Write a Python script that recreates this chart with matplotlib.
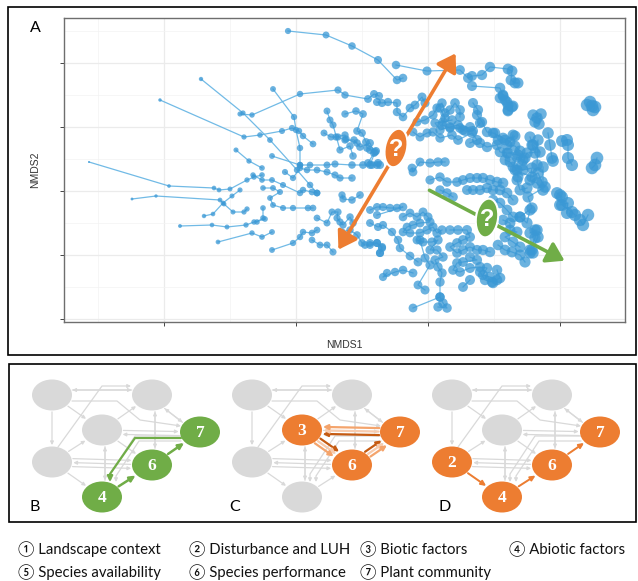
import matplotlib
matplotlib.use("Agg")
import matplotlib.pyplot as plt
import numpy as np
from matplotlib.patches import Ellipse, Rectangle, FancyArrowPatch
from matplotlib.path import Path

# ---------------- data (NMDS scores, in plot units) ----------------
traj_left = [
    [(89,162),(169,186),(214,188),(219,190),(230,189),(247,180),(254,177),(262,175)],
    [(132,199),(156,196),(220,200),(224,204),(233,212),(244,212),(247,209)],
    [(180,226),(212,225),(227,227),(246,225),(254,222),(265,219)],
    [(218,242),(252,233),(262,237),(272,232)],
    [(204,216),(213,214),(223,203),(232,196),(240,190)],
    [(201,79),(243,113),(270,140),(297,170),(310,185),(317,193)],
    [(160,100),(244,137),(260,135),(282,131),(292,128),(299,131),(303,136),(313,144)],
    [(240,114),(252,115),(300,94),(338,90),(345,95),(368,99),(374,94),(379,96)],
    [(288,31),(326,35),(352,46),(378,60),(397,80),(403,78)],
    [(236,150),(249,161),(262,168)],
    [(273,89),(294,117),(296,130),(300,148),(300,165)],
    [(272,250),(293,243),(300,237),(303,232),(312,233),(317,230)],
]
traj_center = [
    [(327,111),(330,120),(333,125),(340,150),(350,146),(353,156)],
    [(345,114),(356,111),(363,114),(357,131),(362,133),(366,142),(367,148),(376,151)],
    [(272,156),(300,165),(310,165),(327,165),(335,164),(352,165),(363,165),(372,165),(380,165)],
    [(324,133),(331,137),(336,137),(345,135),(346,139),(357,143)],
    [(285,172),(293,178),(300,168),(307,170),(317,170),(327,172),(335,175),(340,178),(352,178)],
    [(253,175),(262,180),(272,180),(283,185),(300,193),(303,190),(312,192),(317,193)],
    [(263,188),(273,188),(280,192),(270,198),(273,205),(283,208),(293,208),(308,208),(313,208)],
    [(257,222),(263,218),(263,208)],
    [(317,218),(327,223),(332,212),(338,212),(337,218),(340,222),(343,225),(350,217),(353,223)],
    [(342,232),(350,230),(357,235),(362,243),(365,245),(370,245),(377,243),(382,248),(380,253)],
    [(312,240),(320,245),(327,245),(333,252)],
    [(338,137),(345,140),(354,140),(360,147),(370,143),(374,153),(368,163),(378,163)],
    [(342,195),(343,199),(352,200),(360,195)],
    [(370,150),(375,152),(370,165),(377,165)],
]
traj_upper_band = [
    [(396,65),(427,71),(460,70),(468,78),(472,76),(482,75),(490,67),(508,69),(512,71),(511,80),(515,83),(518,83)],
    [(472,86),(500,88),(503,96),(505,100),(508,105),(513,106),(508,111)],
    [(377,102),(382,103),(388,102),(397,103),(397,112),(403,117),(410,108),(415,105),(422,97),(425,103)],
    [(417,122),(425,120),(433,115),(437,108),(442,103),(445,113),(450,110),(455,103),(460,110),(460,117)],
    [(452,120),(443,122),(435,123),(440,130),(450,127),(458,125),(463,130),(470,127)],
    [(473,103),(478,110),(477,115),(482,122),(487,132),(493,133),(503,138),(510,142),(513,135)],
    [(500,98),(503,95),(507,102),(512,107),(508,110)],
    [(413,132),(420,137),(427,133),(433,132),(440,138),(452,135),(458,140),(472,133),(477,140),(470,143)],
    [(480,143),(487,147),(497,145),(500,152),(507,153),(505,160),(510,162),(517,170),(518,177)],
    [(530,137),(533,145),(540,152),(527,153),(523,160),(517,157),(513,167),(523,170),(532,168),(530,180),(537,183),(543,190),(543,167)],
    [(495,133),(498,140),(505,140),(515,136),(507,145),(515,146),(520,151),(508,153),(518,155),(525,158),(522,165)],
    [(440,108),(445,118),(442,125),(450,128),(460,128),(465,131),(473,131),(480,123)],
    [(532,145),(535,153),(538,140),(537,165)],
]
traj_middle_band = [
    [(412,168),(413,172),(420,162),(430,163),(438,162),(445,162)],
    [(430,180),(440,177),(447,182),(457,182),(463,180),(470,178),(477,178),(483,178),(490,180),(497,182),(503,183)],
    [(440,190),(447,193),(453,197)],
    [(467,190),(473,190),(480,190),(487,188),(493,190),(500,190),(507,193),(513,200)],
    [(517,180),(520,190),(527,188)],
    [(493,200),(500,203),(507,210),(513,217),(520,217),(527,223),(530,210)],
    [(557,193),(562,197),(560,205),(568,203),(567,213)],
    [(515,170),(532,177),(538,173),(542,182),(545,187),(528,197),(532,208),(520,217)],
]
traj_lower_band = [
    [(370,210),(377,207),(383,207),(390,208),(397,208),(403,207),(377,215)],
    [(403,217),(410,213),(417,217),(423,212),(428,217),(430,222),(420,223),(413,225),(407,227),(403,232),(410,233),(420,233),(427,230),(433,227),(437,233),(442,230)],
    [(417,240),(423,242),(432,242),(438,240),(430,250),(437,250),(443,257),(435,260),(438,267),(442,273),(440,282),(440,297)],
    [(370,243),(377,243),(382,247),(380,253)],
    [(370,223),(378,227),(383,225),(392,232),(398,240),(400,248),(410,256),(418,262)],
    [(420,240),(425,258),(430,265),(418,285),(425,290)],
    [(450,230),(458,230),(467,230),(470,237),(463,240),(457,243),(450,247),(457,253),(463,250),(470,247),(477,250),(483,250),(490,252)],
    [(470,257),(477,260),(463,262),(457,263),(453,270),(460,272),(470,268),(480,267),(487,268),(483,275),(490,277),(497,280),(493,283)],
    [(480,272),(485,280),(492,282),(500,278),(497,270)],
    [(503,220),(510,223),(510,230),(517,232),(505,237),(513,242),(520,247)],
    [(498,245),(505,250),(512,252),(520,255),(525,262)],
    [(530,233),(537,230),(535,238),(530,250),(533,253)],
    [(387,273),(383,277),(395,272),(403,270),(413,273)],
    [(413,308),(440,297),(443,303),(447,308),(438,307)],
    [(463,287),(470,280)],
]
traj_far_right = [
    [(533,115),(537,118),(541,114),(539,124),(535,122)],
    [(587,105),(592,106),(590,102),(595,107),(593,110)],
    [(548,133),(550,145),(552,158),(553,161)],
    [(562,141),(567,140),(568,145),(568,158),(572,165)],
    [(597,158),(595,165),(592,168)],
    [(560,195),(562,205),(572,212),(575,215)],
    [(588,215),(583,225),(580,220)],
    [(535,230),(538,237),(532,250),(530,253)],
]

nmds1_ticks = [164, 296, 428, 560]
nmds2_ticks = [63, 127, 191, 255, 319]
nmds1_minor = [98, 230, 362, 494]
nmds2_minor = [31, 95, 159, 223, 287]

factor_names = ['Landscape context', 'Disturbance and LUH', 'Biotic factors',
                'Abiotic factors', 'Species availability', 'Species performance',
                'Plant community']

# ---------------- styling ----------------
W, H = 638, 581
BLUE = '#3A98D5'
BLUE_LINE = '#62B3E3'
ORANGE = '#ED7D31'
GREEN = '#70AD47'
NODE_GRAY = '#D9D9D9'
EDGE_GRAY = '#D9D9D9'

fig = plt.figure(figsize=(W/100, H/100), dpi=100)
fig.patch.set_facecolor('white')

ov = fig.add_axes([0, 0, 1, 1])
ov.set_xlim(0, W); ov.set_ylim(H, 0); ov.axis('off')
ov.set_zorder(0)

# panel frames
ov.add_patch(Rectangle((8, 7), 628, 348, fill=False, ec='black', lw=1.2))
ov.add_patch(Rectangle((9, 364), 627, 158, fill=False, ec='black', lw=1.2))

# ---------------- panel A ----------------
ax = fig.add_axes([64/W, 1-322/H, (625-64)/W, (322-18)/H])
ax.set_zorder(1)
ax.set_xlim(64, 625); ax.set_ylim(322, 18)
ax.set_xticks(nmds1_ticks); ax.set_yticks(nmds2_ticks)
ax.set_xticks(nmds1_minor, minor=True); ax.set_yticks(nmds2_minor, minor=True)
ax.set_xticklabels([]); ax.set_yticklabels([])
ax.grid(True, which='major', color='#EBEBEB', lw=0.9)
ax.grid(True, which='minor', color='#F3F3F3', lw=0.5)
ax.set_axisbelow(True)
ax.tick_params(which='major', length=3, width=0.7, color='#444444')
ax.tick_params(which='minor', length=0)
for s in ax.spines.values():
    s.set_color('#6E6E6E'); s.set_linewidth(1.0)

all_groups = (traj_left + traj_center + traj_upper_band + traj_middle_band
              + traj_lower_band + traj_far_right)
px, py = [], []
for tr in all_groups:
    xs = [p[0] for p in tr]; ys = [p[1] for p in tr]
    ax.plot(xs, ys, color=BLUE_LINE, lw=0.9, zorder=2, alpha=0.9)
    px += xs; py += ys
px = np.array(px, float); py = np.array(py, float)
diam = 2.0 + 0.021*np.clip(px-89, 0, None)
ax.scatter(px, py, s=(diam*0.72)**2, color=BLUE, alpha=0.75, lw=0, zorder=3)

# annotations
ax.add_patch(FancyArrowPatch((337, 252), (457, 51), arrowstyle='<|-|>,head_length=0.7,head_width=0.45',
                             mutation_scale=15, lw=2.6, color=ORANGE, zorder=5))
ax.add_patch(FancyArrowPatch((427, 189), (567, 262), arrowstyle='-|>,head_length=0.7,head_width=0.45',
                             mutation_scale=15, lw=2.6, color=GREEN, zorder=5))
for (cx, cy, col, ang) in [(396, 148, ORANGE, 12), (487, 218, GREEN, 8)]:
    ax.add_patch(Ellipse((cx, cy), 22, 39, angle=ang, fc=col, ec='white', lw=1.5, zorder=6))
    ax.text(cx, cy+1, '?', color='white', fontsize=17, fontweight='bold', ha='center', va='center',
            family='Liberation Sans', zorder=7)

ov.text(35, 28, 'A', fontsize=11.5, ha='center', va='center', family='Lato')
ov.text(344.5, 345, 'NMDS1', fontsize=7.5, ha='center', va='center', color='#333333', family='Liberation Sans')
ov.text(35, 170, 'NMDS2', fontsize=7.5, ha='center', va='center', rotation=90, color='#333333', family='Liberation Sans')

# ---------------- network panels ----------------
NODE_POS = {1: (52, 395), 5: (152, 395), 3: (102, 430), 7: (200, 432),
            2: (52, 462), 6: (152, 465), 4: (102, 497)}
GRAY_EDGES = [(1, 5, -5), (5, 1, 5), (1, 2, 0), (1, 3, 0), (2, 3, 0), (2, 4, 0),
              (2, 6, -4), (6, 2, 0), (2, 6, 4), (3, 5, 0), (3, 4, -3), (4, 3, 3),
              (5, 6, -3), (6, 5, 3), (7, 5, -3), (5, 7, 3), (7, 3, -4), (3, 7, 0),
              (3, 6, 0), (4, 6, 0), (6, 7, 0)]
GRAY_ROUTES = [
    [(181, 436), (135, 436), (110, 474), (110, 482)],
    [(181, 441), (139, 441), (116, 476), (116, 482)],
    [(58, 447), (102, 386), (131, 386)],
    [(72, 401), (117, 401), (140, 420), (181, 426)],
]

def edge_arrow(a, b, dx, off, patches, color, lw, ms):
    x1, y1 = NODE_POS[a]; x2, y2 = NODE_POS[b]
    d = np.array([x2-x1, y2-y1], float); d /= np.hypot(*d)
    n = np.array([-d[1], d[0]])
    p1 = (x1+dx+n[0]*off, y1+n[1]*off); p2 = (x2+dx+n[0]*off, y2+n[1]*off)
    ov.add_patch(FancyArrowPatch(p1, p2, patchA=patches[a], patchB=patches[b],
                                 arrowstyle='-|>', mutation_scale=ms, lw=lw, color=color,
                                 shrinkA=1, shrinkB=1, zorder=2 if color == EDGE_GRAY else 4))

def route_arrow(pts, dx, color, lw, ms, z):
    verts = [(x+dx, y) for x, y in pts]
    ov.add_patch(FancyArrowPatch(path=Path(verts), arrowstyle='-|>', mutation_scale=ms, lw=lw,
                                 color=color, zorder=z))

def draw_network(dx, hi_nodes, hi_color, label, lab_x):
    patches = {}
    for n, (x, y) in NODE_POS.items():
        fc = hi_color if n in hi_nodes else NODE_GRAY
        e = Ellipse((x+dx, y), 40, 31, fc=fc, ec='none', zorder=3)
        ov.add_patch(e); patches[n] = e
        if n in hi_nodes:
            ov.text(x+dx, y+1, str(n), color='white', fontsize=12.5, fontweight='bold',
                    family='Liberation Serif', ha='center', va='center', zorder=6)
    for a, b, off in GRAY_EDGES:
        edge_arrow(a, b, dx, off, patches, EDGE_GRAY, 0.9, 5)
    for r in GRAY_ROUTES:
        route_arrow(r, dx, EDGE_GRAY, 0.9, 5, 2)
    ov.text(lab_x, 507, label, fontsize=11.5, ha='center', va='center', family='Lato')
    return patches

pB = draw_network(0, [4, 6, 7], GREEN, 'B', 35)
for a, b in [(4, 6), (6, 7)]:
    edge_arrow(a, b, 0, 0, pB, GREEN, 1.8, 8)
route_arrow([(181, 438), (135, 438), (110, 474), (110, 482)], 0, GREEN, 1.6, 8, 4)

pC = draw_network(200, [3, 6, 7], ORANGE, 'C', 235)
for a, b in [(7, 3), (3, 6), (6, 7)]:
    for off, col in [(-3.5, '#C55A11'), (0, '#F8CBAD'), (3.5, '#F4A46C')]:
        edge_arrow(a, b, 200, off, pC, col, 1.6, 7)

pD = draw_network(400, [2, 4, 6, 7], ORANGE, 'D', 445)
for a, b in [(2, 4), (4, 6), (6, 7)]:
    edge_arrow(a, b, 400, 0, pD, ORANGE, 1.4, 7)

# ---------------- legend ----------------
col_x = [18, 189, 360, 509]
row_y = [549, 572]
for i, name in enumerate(factor_names):
    r, c = divmod(i, 4)
    ov.text(col_x[c], row_y[r], chr(0x2460+i) + ' ' + name, fontsize=10.7, ha='left', va='center',
            family=['Lato', 'Noto Sans CJK JP', 'DejaVu Sans'], color='#111111')

fig.savefig('out.png', dpi=100, facecolor='white')
